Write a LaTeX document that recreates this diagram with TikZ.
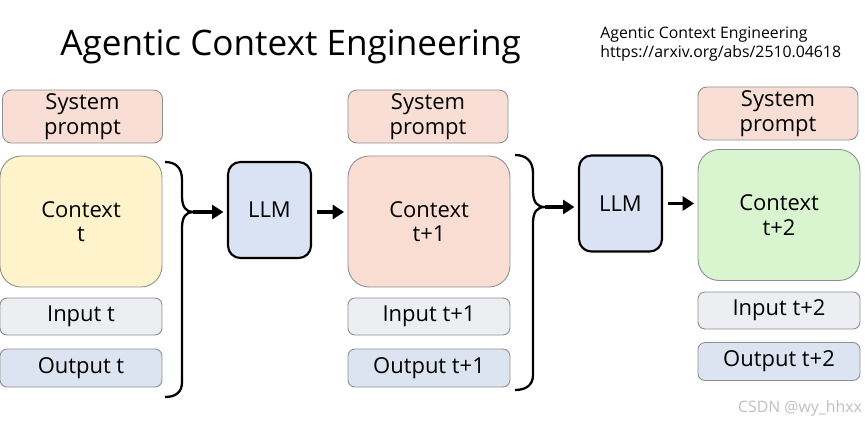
\documentclass[tikz,border=0pt]{standalone}
\usepackage{fontspec}
\setmainfont{Open Sans}
\usetikzlibrary{arrows.meta}
\definecolor{sysfill}{HTML}{F9DED5}
\definecolor{ctxyellow}{HTML}{FFF3CC}
\definecolor{ctxpink}{HTML}{FADDD3}
\definecolor{ctxgreen}{HTML}{D9F5CF}
\definecolor{infill}{HTML}{EDEEF1}
\definecolor{outfill}{HTML}{DCE3F1}
\definecolor{llmfill}{HTML}{DAE3F3}
\definecolor{rim}{HTML}{8E8E8E}
\begin{document}
\begin{tikzpicture}[x=0.02cm, y=-0.02cm, >={Triangle[length=6.5pt,width=8pt]},
		box/.style={draw=rim, line width=0.5pt, align=center, inner sep=0pt,
			font=\fontsize{12.5}{14}\selectfont},
		sysbox/.style={box, fill=sysfill, rounded corners=5pt, minimum width=3.2cm, minimum height=1.06cm},
		ctxbox/.style={box, rounded corners=12pt, minimum width=3.24cm, minimum height=2.62cm},
		inbox/.style={box, fill=infill, rounded corners=4pt, minimum width=3.24cm, minimum height=0.74cm},
		outbox/.style={box, fill=outfill, rounded corners=4pt, minimum width=3.24cm, minimum height=0.76cm},
		llmbox/.style={draw=black, line width=1.2pt, fill=llmfill, rounded corners=7pt,
			minimum width=1.66cm, minimum height=1.92cm, font=\fontsize{12.5}{14}\selectfont},
		arr/.style={->, line width=2.2pt},
		brace/.style={line width=1.3pt}]
	\useasboundingbox (0,0) rectangle (865,423);
	\node[anchor=base west, inner sep=0pt, font=\fontsize{20}{24}\selectfont] (title) at (60,55) {Agentic Context Engineering};
	\node[anchor=north west, inner sep=0pt, align=left, font=\fontsize{9}{10.4}\selectfont] (paper) at (600,27)
		{Agentic Context Engineering\\https://arxiv.org/abs/2510.04618};
	
	\node[sysbox] (sys1) at (82.5,116.5) {System\\prompt};
	\node[ctxbox, fill=ctxyellow] (ctx1) at (81,221.5) {Context\\t};
	\node[inbox] (in1) at (81,316.5) {Input t};
	\node[outbox] (out1) at (81,368) {Output t};
	
	\node[sysbox] (sys2) at (428,116.5) {System\\prompt};
	\node[ctxbox, fill=ctxpink] (ctx2) at (429,221.5) {Context\\t+1};
	\node[inbox] (in2) at (429,316.5) {Input t+1};
	\node[outbox] (out2) at (429,368) {Output t+1};
	
	\node[sysbox] (sys3) at (778,113.5) {System\\prompt};
	\node[ctxbox, fill=ctxgreen] (ctx3) at (779,215) {Context\\t+2};
	\node[inbox] (in3) at (779,310.5) {Input t+2};
	\node[outbox] (out3) at (779,361.5) {Output t+2};
	
	\node[llmbox] (llm1) at (269.5,210) {LLM};
	\node[llmbox] (llm2) at (620.5,203.5) {LLM};
	
	\coordinate (tip1) at (193,212);
	\coordinate (tip2) at (545,207);
	\draw[brace] (165,162) .. controls (176,162) and (182,168) .. (182,180) -- (182,196)
		.. controls (182,207) and (186,212) .. (tip1)
		.. controls (186,212) and (182,217) .. (182,228) -- (182,382)
		.. controls (182,392) and (176,397) .. (165,397);
	\draw[brace] (515,155) .. controls (526,155) and (533,161) .. (533,173) -- (533,191)
		.. controls (533,202) and (537,207) .. (tip2)
		.. controls (537,207) and (533,212) .. (533,223) -- (533,375)
		.. controls (533,385) and (526,390) .. (515,390);
	
	\draw[arr, shorten >=2pt] (tip1) -- (llm1.west |- tip1);
	\draw[arr, shorten <=3pt, shorten >=2pt] (llm1.east |- tip1) -- (ctx2.west |- tip1);
	\draw[arr, shorten >=2pt] (tip2) -- (llm2.west |- tip2);
	\draw[arr, shorten <=3pt, shorten >=2pt] (llm2.east) -- (llm2.east -| ctx3.west);
	
	\node[text=black!25, font=\fontsize{9}{10}\selectfont] (mark) at (800,408) {CSDN @wy\_hhxx};
\end{tikzpicture}
\end{document}
